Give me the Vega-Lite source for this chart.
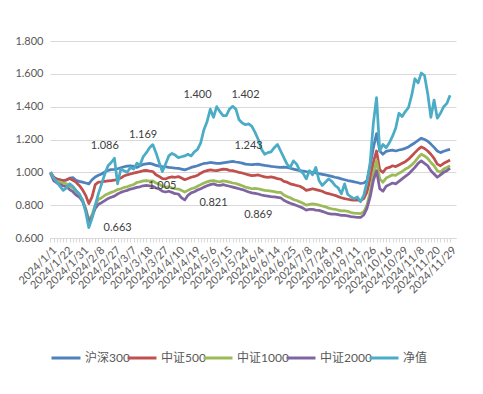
{
  "$schema": "https://vega.github.io/schema/vega-lite/v6.json",
  "width": 406,
  "height": 197,
  "autosize": {"type": "none"},
  "padding": {"left": 50, "top": 41, "right": 27, "bottom": 156},
  "background": "white",
  "config": {"view": {"stroke": null}, "font": "Lato, Noto Sans CJK SC"},
  "datasets": {
    "rows": [
      {"d":"2024/1/1","沪深300":1.000,"中证500":1.000,"中证1000":1.000,"中证2000":0.995,"净值":1.000},
      {"d":"2024/1/5","沪深300":0.968,"中证500":0.970,"中证1000":0.955,"中证2000":0.950,"净值":0.965},
      {"d":"2024/1/9","沪深300":0.958,"中证500":0.958,"中证1000":0.945,"中证2000":0.935,"净值":0.940},
      {"d":"2024/1/12","沪深300":0.955,"中证500":0.952,"中证1000":0.940,"中证2000":0.925,"净值":0.915},
      {"d":"2024/1/17","沪深300":0.950,"中证500":0.950,"中证1000":0.935,"中证2000":0.918,"净值":0.890},
      {"d":"2024/1/22","沪深300":0.952,"中证500":0.955,"中证1000":0.930,"中证2000":0.912,"净值":0.905},
      {"d":"2024/1/24","沪深300":0.965,"中证500":0.962,"中证1000":0.915,"中证2000":0.895,"净值":0.930},
      {"d":"2024/1/25","沪深300":0.968,"中证500":0.952,"中证1000":0.905,"中证2000":0.882,"净值":0.915},
      {"d":"2024/1/26","沪深300":0.952,"中证500":0.940,"中证1000":0.885,"中证2000":0.862,"净值":0.890},
      {"d":"2024/1/29","沪深300":0.945,"中证500":0.920,"中证1000":0.865,"中证2000":0.850,"净值":0.870},
      {"d":"2024/1/31","沪深300":0.940,"中证500":0.895,"中证1000":0.835,"中证2000":0.825,"净值":0.830},
      {"d":"2024/2/2","沪深300":0.935,"中证500":0.860,"中证1000":0.780,"中证2000":0.775,"净值":0.760},
      {"d":"2024/2/5","沪深300":0.930,"中证500":0.810,"中证1000":0.710,"中证2000":0.695,"净值":0.663},
      {"d":"2024/2/6","沪深300":0.955,"中证500":0.850,"中证1000":0.740,"中证2000":0.730,"净值":0.720},
      {"d":"2024/2/7","沪深300":0.972,"中证500":0.925,"中证1000":0.800,"中证2000":0.780,"净值":0.800},
      {"d":"2024/2/8","沪深300":0.982,"中证500":0.940,"中证1000":0.835,"中证2000":0.805,"净值":0.870},
      {"d":"2024/2/19","沪深300":0.990,"中证500":0.942,"中证1000":0.845,"中证2000":0.815,"净值":0.930},
      {"d":"2024/2/21","沪深300":1.002,"中证500":0.945,"中证1000":0.860,"中证2000":0.828,"净值":0.990},
      {"d":"2024/2/23","沪深300":1.012,"中证500":0.948,"中证1000":0.870,"中证2000":0.840,"净值":1.040},
      {"d":"2024/2/26","沪深300":1.016,"中证500":0.950,"中证1000":0.878,"中证2000":0.848,"净值":1.060},
      {"d":"2024/2/27","沪深300":1.018,"中证500":0.952,"中证1000":0.885,"中证2000":0.855,"净值":1.086},
      {"d":"2024/2/28","沪深300":1.022,"中证500":0.958,"中证1000":0.895,"中证2000":0.868,"净值":0.930},
      {"d":"2024/3/1","沪深300":1.028,"中证500":0.965,"中证1000":0.900,"中证2000":0.878,"净值":1.020},
      {"d":"2024/3/4","沪深300":1.034,"中证500":0.978,"中证1000":0.908,"中证2000":0.885,"净值":1.010},
      {"d":"2024/3/6","沪深300":1.038,"中证500":0.985,"中证1000":0.912,"中证2000":0.890,"净值":1.000},
      {"d":"2024/3/7","沪深300":1.040,"中证500":0.990,"中证1000":0.920,"中证2000":0.898,"净值":1.030},
      {"d":"2024/3/11","沪深300":1.036,"中证500":0.995,"中证1000":0.925,"中证2000":0.902,"净值":1.020},
      {"d":"2024/3/12","沪深300":1.030,"中证500":1.000,"中证1000":0.938,"中证2000":0.908,"净值":1.055},
      {"d":"2024/3/14","沪深300":1.040,"中证500":1.004,"中证1000":0.942,"中证2000":0.912,"净值":1.045},
      {"d":"2024/3/15","沪深300":1.048,"中证500":1.010,"中证1000":0.948,"中证2000":0.918,"净值":1.095},
      {"d":"2024/3/18","沪深300":1.052,"中证500":1.012,"中证1000":0.950,"中证2000":0.920,"净值":1.120},
      {"d":"2024/3/20","沪深300":1.055,"中证500":1.008,"中证1000":0.946,"中证2000":0.918,"净值":1.150},
      {"d":"2024/3/21","沪深300":1.050,"中证500":1.005,"中证1000":0.948,"中证2000":0.915,"净值":1.169},
      {"d":"2024/3/22","沪深300":1.042,"中证500":0.985,"中证1000":0.935,"中证2000":0.905,"净值":1.120},
      {"d":"2024/3/26","沪深300":1.038,"中证500":0.975,"中证1000":0.928,"中证2000":0.898,"净值":1.060},
      {"d":"2024/3/27","沪深300":1.035,"中证500":0.962,"中证1000":0.915,"中证2000":0.885,"净值":1.005},
      {"d":"2024/3/29","沪深300":1.034,"中证500":0.960,"中证1000":0.910,"中证2000":0.880,"净值":1.050},
      {"d":"2024/4/2","沪深300":1.030,"中证500":0.968,"中证1000":0.912,"中证2000":0.885,"净值":1.100},
      {"d":"2024/4/3","沪深300":1.028,"中证500":0.972,"中证1000":0.905,"中证2000":0.878,"净值":1.115},
      {"d":"2024/4/9","沪深300":1.025,"中证500":0.970,"中证1000":0.900,"中证2000":0.870,"净值":1.105},
      {"d":"2024/4/10","沪深300":1.024,"中证500":0.974,"中证1000":0.898,"中证2000":0.868,"净值":1.090},
      {"d":"2024/4/12","沪深300":1.020,"中证500":0.965,"中证1000":0.890,"中证2000":0.845,"净值":1.095},
      {"d":"2024/4/15","沪深300":1.015,"中证500":0.955,"中证1000":0.880,"中证2000":0.832,"净值":1.100},
      {"d":"2024/4/16","沪深300":1.022,"中证500":0.962,"中证1000":0.890,"中证2000":0.860,"净值":1.110},
      {"d":"2024/4/18","沪深300":1.030,"中证500":0.970,"中证1000":0.900,"中证2000":0.875,"净值":1.100},
      {"d":"2024/4/19","沪深300":1.035,"中证500":0.975,"中证1000":0.905,"中证2000":0.882,"净值":1.125},
      {"d":"2024/4/23","沪深300":1.040,"中证500":0.982,"中证1000":0.915,"中证2000":0.892,"净值":1.140},
      {"d":"2024/4/25","沪深300":1.048,"中证500":0.995,"中证1000":0.925,"中证2000":0.900,"净值":1.180},
      {"d":"2024/4/29","沪深300":1.054,"中证500":1.005,"中证1000":0.935,"中证2000":0.910,"净值":1.260},
      {"d":"2024/4/30","沪深300":1.056,"中证500":1.010,"中证1000":0.942,"中证2000":0.918,"净值":1.310},
      {"d":"2024/5/6","沪深300":1.060,"中证500":1.015,"中证1000":0.948,"中证2000":0.925,"净值":1.385},
      {"d":"2024/5/8","沪深300":1.058,"中证500":1.012,"中证1000":0.950,"中证2000":0.930,"净值":1.335},
      {"d":"2024/5/9","沪深300":1.055,"中证500":1.010,"中证1000":0.945,"中证2000":0.922,"净值":1.400},
      {"d":"2024/5/13","沪深300":1.054,"中证500":1.015,"中证1000":0.942,"中证2000":0.920,"净值":1.370},
      {"d":"2024/5/14","沪深300":1.058,"中证500":1.020,"中证1000":0.948,"中证2000":0.925,"净值":1.345},
      {"d":"2024/5/15","沪深300":1.061,"中证500":1.018,"中证1000":0.945,"中证2000":0.920,"净值":1.345},
      {"d":"2024/5/17","沪深300":1.064,"中证500":1.012,"中证1000":0.940,"中证2000":0.915,"净值":1.385},
      {"d":"2024/5/20","沪深300":1.067,"中证500":1.010,"中证1000":0.935,"中证2000":0.910,"净值":1.402},
      {"d":"2024/5/21","沪深300":1.063,"中证500":1.005,"中证1000":0.932,"中证2000":0.905,"净值":1.385},
      {"d":"2024/5/23","沪深300":1.060,"中证500":1.000,"中证1000":0.925,"中证2000":0.900,"净值":1.320},
      {"d":"2024/5/24","沪深300":1.056,"中证500":0.996,"中证1000":0.918,"中证2000":0.895,"净值":1.300},
      {"d":"2024/5/27","沪深300":1.050,"中证500":0.990,"中证1000":0.910,"中证2000":0.888,"净值":1.290},
      {"d":"2024/5/29","沪深300":1.048,"中证500":0.985,"中证1000":0.905,"中证2000":0.880,"净值":1.295},
      {"d":"2024/5/31","沪深300":1.047,"中证500":0.980,"中证1000":0.900,"中证2000":0.875,"净值":1.280},
      {"d":"2024/6/3","沪深300":1.049,"中证500":0.982,"中证1000":0.902,"中证2000":0.872,"净值":1.243},
      {"d":"2024/6/4","沪深300":1.050,"中证500":0.984,"中证1000":0.900,"中证2000":0.868,"净值":1.200},
      {"d":"2024/6/6","沪深300":1.046,"中证500":0.978,"中证1000":0.895,"中证2000":0.862,"净值":1.140},
      {"d":"2024/6/7","沪深300":1.042,"中证500":0.972,"中证1000":0.890,"中证2000":0.858,"净值":1.110},
      {"d":"2024/6/12","沪深300":1.040,"中证500":0.970,"中证1000":0.888,"中证2000":0.855,"净值":1.120},
      {"d":"2024/6/13","沪深300":1.036,"中证500":0.972,"中证1000":0.885,"中证2000":0.852,"净值":1.125},
      {"d":"2024/6/14","沪深300":1.034,"中证500":0.968,"中证1000":0.882,"中证2000":0.850,"净值":1.150},
      {"d":"2024/6/18","沪深300":1.032,"中证500":0.962,"中证1000":0.878,"中证2000":0.848,"净值":1.170},
      {"d":"2024/6/19","沪深300":1.030,"中证500":0.958,"中证1000":0.878,"中证2000":0.845,"净值":1.130},
      {"d":"2024/6/21","沪深300":1.031,"中证500":0.945,"中证1000":0.862,"中证2000":0.830,"净值":1.090},
      {"d":"2024/6/24","沪深300":1.030,"中证500":0.940,"中证1000":0.852,"中证2000":0.820,"净值":1.050},
      {"d":"2024/6/25","沪深300":1.025,"中证500":0.930,"中证1000":0.845,"中证2000":0.812,"净值":1.030},
      {"d":"2024/6/27","沪深300":1.020,"中证500":0.925,"中证1000":0.835,"中证2000":0.805,"净值":1.070},
      {"d":"2024/7/1","沪深300":1.015,"中证500":0.920,"中证1000":0.828,"中证2000":0.798,"净值":1.050},
      {"d":"2024/7/3","沪深300":1.010,"中证500":0.915,"中证1000":0.820,"中证2000":0.790,"净值":1.010},
      {"d":"2024/7/5","沪深300":1.008,"中证500":0.905,"中证1000":0.812,"中证2000":0.782,"净值":0.995},
      {"d":"2024/7/8","沪深300":1.005,"中证500":0.890,"中证1000":0.800,"中证2000":0.770,"净值":0.960},
      {"d":"2024/7/11","沪深300":1.003,"中证500":0.895,"中证1000":0.805,"中证2000":0.775,"净值":1.010},
      {"d":"2024/7/15","沪深300":1.000,"中证500":0.900,"中证1000":0.808,"中证2000":0.775,"净值":0.985},
      {"d":"2024/7/18","沪深300":0.997,"中证500":0.895,"中证1000":0.805,"中证2000":0.770,"净值":1.030},
      {"d":"2024/7/22","沪深300":0.992,"中证500":0.890,"中证1000":0.800,"中证2000":0.768,"净值":0.950},
      {"d":"2024/7/24","沪深300":0.988,"中证500":0.885,"中证1000":0.795,"中证2000":0.762,"净值":0.920},
      {"d":"2024/7/29","沪深300":0.984,"中证500":0.875,"中证1000":0.790,"中证2000":0.755,"净值":0.940},
      {"d":"2024/8/2","沪深300":0.980,"中证500":0.870,"中证1000":0.782,"中证2000":0.748,"净值":0.960},
      {"d":"2024/8/8","沪深300":0.975,"中证500":0.865,"中证1000":0.778,"中证2000":0.745,"净值":0.945},
      {"d":"2024/8/14","沪深300":0.970,"中证500":0.860,"中证1000":0.775,"中证2000":0.745,"净值":0.920},
      {"d":"2024/8/19","沪深300":0.966,"中证500":0.852,"中证1000":0.770,"中证2000":0.742,"净值":0.905},
      {"d":"2024/8/23","沪深300":0.960,"中证500":0.845,"中证1000":0.765,"中证2000":0.738,"净值":0.869},
      {"d":"2024/8/29","沪深300":0.955,"中证500":0.840,"中证1000":0.766,"中证2000":0.738,"净值":0.930},
      {"d":"2024/9/3","沪深300":0.950,"中证500":0.836,"中证1000":0.762,"中证2000":0.735,"净值":0.865},
      {"d":"2024/9/6","沪深300":0.946,"中证500":0.832,"中证1000":0.755,"中证2000":0.730,"净值":0.850},
      {"d":"2024/9/11","沪深300":0.942,"中证500":0.830,"中证1000":0.752,"中证2000":0.728,"净值":0.840},
      {"d":"2024/9/13","沪深300":0.938,"中证500":0.832,"中证1000":0.750,"中证2000":0.725,"净值":0.850},
      {"d":"2024/9/19","沪深300":0.932,"中证500":0.828,"中证1000":0.748,"中证2000":0.725,"净值":0.821},
      {"d":"2024/9/23","沪深300":0.935,"中证500":0.840,"中证1000":0.760,"中证2000":0.740,"净值":0.860},
      {"d":"2024/9/25","沪深300":0.950,"中证500":0.880,"中证1000":0.800,"中证2000":0.780,"净值":0.940},
      {"d":"2024/9/26","沪深300":1.040,"中证500":0.960,"中证1000":0.880,"中证2000":0.850,"净值":1.060},
      {"d":"2024/9/30","沪深300":1.150,"中证500":1.060,"中证1000":0.990,"中证2000":0.950,"净值":1.300},
      {"d":"2024/10/8","沪深300":1.236,"中证500":1.130,"中证1000":1.070,"中证2000":1.010,"净值":1.455},
      {"d":"2024/10/9","沪深300":1.130,"中证500":1.015,"中证1000":0.960,"中证2000":0.900,"净值":1.130},
      {"d":"2024/10/14","沪深300":1.110,"中证500":1.000,"中证1000":0.940,"中证2000":0.885,"净值":1.170},
      {"d":"2024/10/16","沪深300":1.128,"中证500":1.025,"中证1000":0.965,"中证2000":0.915,"净值":1.150},
      {"d":"2024/10/18","沪深300":1.132,"中证500":1.030,"中证1000":0.975,"中证2000":0.925,"净值":1.180},
      {"d":"2024/10/22","沪深300":1.135,"中证500":1.040,"中证1000":0.985,"中证2000":0.935,"净值":1.220},
      {"d":"2024/10/24","沪深300":1.130,"中证500":1.035,"中证1000":0.982,"中证2000":0.930,"净值":1.270},
      {"d":"2024/10/28","沪深300":1.136,"中证500":1.045,"中证1000":0.995,"中证2000":0.945,"净值":1.360},
      {"d":"2024/10/29","沪深300":1.140,"中证500":1.055,"中证1000":1.005,"中证2000":0.960,"净值":1.340},
      {"d":"2024/10/31","沪深300":1.146,"中证500":1.065,"中证1000":1.020,"中证2000":0.975,"净值":1.370},
      {"d":"2024/11/4","沪深300":1.155,"中证500":1.080,"中证1000":1.030,"中证2000":0.990,"净值":1.395},
      {"d":"2024/11/5","沪深300":1.168,"中证500":1.100,"中证1000":1.045,"中证2000":1.010,"净值":1.470},
      {"d":"2024/11/6","沪深300":1.180,"中证500":1.120,"中证1000":1.065,"中证2000":1.030,"净值":1.570},
      {"d":"2024/11/8","沪深300":1.195,"中证500":1.140,"中证1000":1.090,"中证2000":1.055,"净值":1.545},
      {"d":"2024/11/12","沪深300":1.208,"中证500":1.155,"中证1000":1.110,"中证2000":1.070,"净值":1.605},
      {"d":"2024/11/13","沪深300":1.200,"中证500":1.145,"中证1000":1.100,"中证2000":1.055,"净值":1.590},
      {"d":"2024/11/15","沪深300":1.190,"中证500":1.130,"中证1000":1.085,"中证2000":1.040,"净值":1.480},
      {"d":"2024/11/18","沪深300":1.172,"中证500":1.110,"中证1000":1.060,"中证2000":1.010,"净值":1.335},
      {"d":"2024/11/20","沪深300":1.152,"中证500":1.085,"中证1000":1.040,"中证2000":0.990,"净值":1.440},
      {"d":"2024/11/21","沪深300":1.130,"中证500":1.050,"中证1000":1.010,"中证2000":0.970,"净值":1.330},
      {"d":"2024/11/25","沪深300":1.120,"中证500":1.040,"中证1000":1.000,"中证2000":0.985,"净值":1.360},
      {"d":"2024/11/26","沪深300":1.128,"中证500":1.055,"中证1000":1.020,"中证2000":1.000,"净值":1.400},
      {"d":"2024/11/28","沪深300":1.135,"中证500":1.065,"中证1000":1.030,"中证2000":1.010,"净值":1.420},
      {"d":"2024/11/29","沪深300":1.140,"中证500":1.075,"中证1000":1.040,"中证2000":1.025,"净值":1.470}
    ],
    "notes": [
      {"d":"2024/2/21","value":1.162,"t":"1.086"},
      {"d":"2024/3/15","value":1.229,"t":"1.169"},
      {"d":"2024/4/23","value":1.472,"t":"1.400"},
      {"d":"2024/5/27","value":1.472,"t":"1.402"},
      {"d":"2024/5/29","value":1.162,"t":"1.243"},
      {"d":"2024/3/27","value":0.919,"t":"1.005"},
      {"d":"2024/2/28","value":0.658,"t":"0.663"},
      {"d":"2024/5/8","value":0.812,"t":"0.821"},
      {"d":"2024/6/4","value":0.740,"t":"0.869"}
    ]
  },
  "encoding": {
    "x": {
      "field": "d", "type": "ordinal", "sort": null,
      "scale": {"type": "point", "padding": 2.15, "align": 0.074},
      "axis": {
        "title": null, "labelAngle": -45, "labelFontSize": 11, "labelColor": "#595959",
        "domainColor": "#D9D9D9", "tickColor": "#D9D9D9", "tickSize": 4, "labelPadding": 2,
        "labelOverlap": false, "grid": false,
        "labelExpr": "indexof(['2024/1/1','2024/1/22','2024/1/31','2024/2/8','2024/2/27','2024/3/7','2024/3/18','2024/3/27','2024/4/10','2024/4/19','2024/5/6','2024/5/15','2024/5/24','2024/6/4','2024/6/14','2024/6/25','2024/7/8','2024/7/24','2024/8/19','2024/9/11','2024/9/26','2024/10/16','2024/10/29','2024/11/8','2024/11/20','2024/11/29'], datum.value) >= 0 ? datum.value : ''"
      }
    },
    "y": {
      "field": "value", "type": "quantitative",
      "scale": {"domain": [0.6, 1.8], "nice": false, "zero": false},
      "axis": {
        "title": null, "values": [0.6, 0.8, 1.0, 1.2, 1.4, 1.6, 1.8], "format": ".3f",
        "labelFontSize": 11, "labelColor": "#595959", "labelPadding": 7, "labelOverlap": false,
        "domain": false, "ticks": false, "grid": true, "gridColor": "#D9D9D9"
      }
    }
  },
  "layer": [
    {
      "data": {"name": "rows"},
      "transform": [{"fold": ["沪深300", "中证500", "中证1000", "中证2000", "净值"], "as": ["series", "value"]}],
      "mark": {"type": "line", "strokeWidth": 2.75, "strokeJoin": "round"},
      "encoding": {
        "color": {
          "field": "series", "type": "nominal",
          "sort": ["沪深300", "中证500", "中证1000", "中证2000", "净值"],
          "scale": {
            "domain": ["沪深300", "中证500", "中证1000", "中证2000", "净值"],
            "range": ["#4F81BD", "#C0504D", "#9BBB59", "#8064A2", "#4BACC6"]
          },
          "legend": {
            "title": null, "orient": "none", "legendX": 0, "legendY": 301, "direction": "horizontal",
            "gridAlign": "none",
            "symbolType": "stroke", "symbolSize": 841, "symbolStrokeWidth": 3,
            "labelFontSize": 12, "labelColor": "#595959", "columnPadding": -9, "labelOffset": 3
          }
        }
      }
    },
    {
      "data": {"name": "notes"},
      "mark": {"type": "text", "fontSize": 11, "color": "#404040", "align": "center", "baseline": "middle"},
      "encoding": {
        "text": {"field": "t"}
      }
    }
  ]
}
